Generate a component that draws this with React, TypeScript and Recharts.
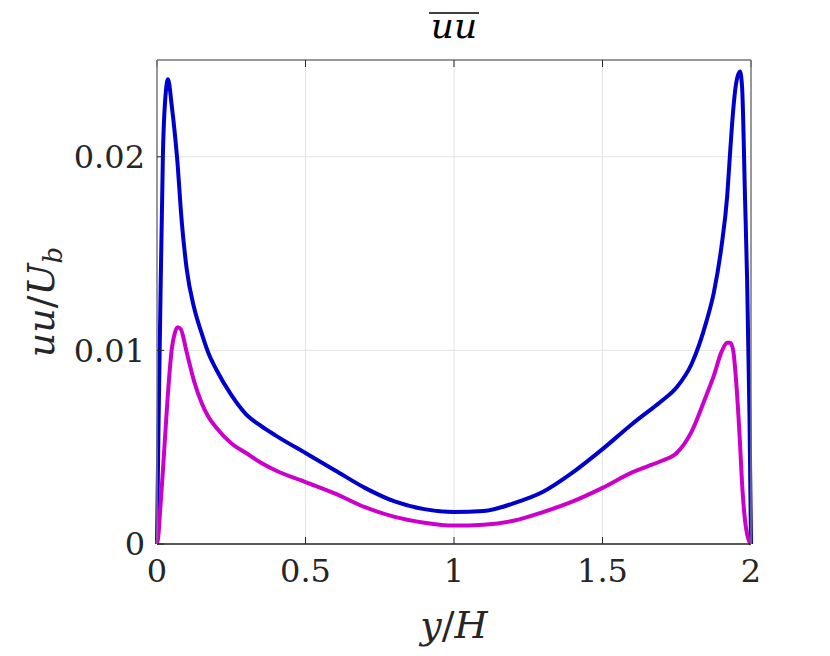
import { CartesianGrid, Label, Line, LineChart, XAxis, YAxis } from 'recharts';

// wall-normal positions y/H
const positions = [
  0, 0.005, 0.01, 0.02, 0.03, 0.037, 0.05, 0.06, 0.07, 0.08, 0.1, 0.125, 0.15, 0.172, 0.2, 0.25, 0.3,
  0.35, 0.4, 0.5, 0.6, 0.7, 0.8, 0.9, 1.0, 1.1, 1.2, 1.3, 1.4, 1.5, 1.6, 1.65, 1.7, 1.75, 1.8, 1.85,
  1.875, 1.9, 1.92, 1.93, 1.94, 1.95, 1.963, 1.97, 1.98, 1.987, 1.995, 2.0,
];

const blueValues = [
  0, 0.006, 0.011, 0.0202, 0.0234, 0.024, 0.0226, 0.0212, 0.0195, 0.0173, 0.0142, 0.0122, 0.0109,
  0.0099, 0.009, 0.0077, 0.0067, 0.0061, 0.0056, 0.0047, 0.0038, 0.0029, 0.0022, 0.0018, 0.00165,
  0.0017, 0.0021, 0.0027, 0.0037, 0.0049, 0.0062, 0.0068, 0.0074, 0.0081, 0.0093, 0.0115, 0.013,
  0.0153, 0.018, 0.0203, 0.0224, 0.0238, 0.0244, 0.0236, 0.0178, 0.0136, 0.0065, 0,
];

const magentaValues = [
  0, 0.0005, 0.0016, 0.0038, 0.0062, 0.0078, 0.0101, 0.0109, 0.0112, 0.0111, 0.0099, 0.0084, 0.0073,
  0.0066, 0.006, 0.0052, 0.0047, 0.0042, 0.0038, 0.0032, 0.0026, 0.0019, 0.0014, 0.0011, 0.00095,
  0.001, 0.0012, 0.00165, 0.0022, 0.0029, 0.0037, 0.004, 0.0043, 0.0047, 0.0058, 0.0077, 0.0087,
  0.0099, 0.0104, 0.0104, 0.01, 0.0084, 0.0052, 0.0031, 0.0012, 0.0005, 0.0001, 0,
];

const xTicks = [0, 0.5, 1, 1.5, 2];
const yTicks = [0, 0.01, 0.02];

const data = positions.map((y, i) => ({ y, blue: blueValues[i], magenta: magentaValues[i] }));

const serif = "'DejaVu Serif', serif";
const ink = '#262626';

const tickStyle = { fontSize: 32, fill: ink, fontFamily: serif };

function TitleLabel(props: any) {
  const vb = props.viewBox;
  const cx = vb.x + vb.width / 2;
  return (
    <g>
      <line x1={cx - 25} x2={cx + 25} y1={13} y2={13} stroke="#000" strokeWidth={1.6} />
      <text x={cx} y={38} textAnchor="middle" fontSize={36} fill="#000" fontFamily={serif} fontStyle="italic">
        uu
      </text>
    </g>
  );
}

function XLabel(props: any) {
  const vb = props.viewBox;
  return (
    <text x={vb.x + vb.width / 2} y={638} textAnchor="middle" fontSize={38} fill={ink} fontFamily={serif}>
      <tspan fontStyle="italic">y</tspan>
      <tspan>/</tspan>
      <tspan fontStyle="italic">H</tspan>
    </text>
  );
}

function YLabel(props: any) {
  const vb = props.viewBox;
  const cy = vb.y + vb.height / 2;
  return (
    <text
      x={54}
      y={cy}
      transform={`rotate(-90 54 ${cy})`}
      textAnchor="middle"
      fontSize={38}
      fill={ink}
      fontFamily={serif}
    >
      <tspan fontStyle="italic">uu</tspan>
      <tspan>/</tspan>
      <tspan fontStyle="italic">U</tspan>
      <tspan fontStyle="italic" fontSize={26} dy={8}>
        b
      </tspan>
    </text>
  );
}

export default function App() {
  return (
    <div style={{ margin: -8, width: 830, height: 656, background: '#fff' }}>
      <LineChart width={830} height={656} data={data} margin={{ top: 59, right: 78, bottom: 0, left: 0 }}>
        <CartesianGrid stroke="#e3e3e3" strokeWidth={1} />
        <XAxis
          dataKey="y"
          type="number"
          domain={[0, 2]}
          ticks={xTicks}
          height={112}
          tick={tickStyle}
          tickSize={-7}
          tickMargin={22}
          tickFormatter={(v: number) => String(v)}
          stroke={ink}
          axisLine={{ stroke: ink, strokeWidth: 1.5 }}
          tickLine={{ stroke: ink }}
        >
          <Label content={XLabel} />
        </XAxis>
        <XAxis
          xAxisId="top"
          orientation="top"
          dataKey="y"
          type="number"
          domain={[0, 2]}
          ticks={xTicks}
          height={1}
          tickSize={-7}
          tickFormatter={() => ''}
          axisLine={{ stroke: '#7a7a7a', strokeWidth: 1.5 }}
          tickLine={{ stroke: ink }}
        >
          <Label content={TitleLabel} />
        </XAxis>
        <YAxis
          type="number"
          domain={[0, 0.025]}
          ticks={yTicks}
          width={157}
          tick={tickStyle}
          tickSize={-7}
          tickMargin={19}
          tickFormatter={(v: number) => String(v)}
          axisLine={{ stroke: '#7a7a7a', strokeWidth: 1.5 }}
          tickLine={{ stroke: ink }}
        >
          <Label content={YLabel} />
        </YAxis>
        <YAxis
          yAxisId="right"
          orientation="right"
          type="number"
          domain={[0, 0.025]}
          ticks={yTicks}
          width={1}
          tickSize={-7}
          tickFormatter={() => ''}
          axisLine={{ stroke: '#7a7a7a', strokeWidth: 1.5 }}
          tickLine={{ stroke: ink }}
        />
        <Line
          type="monotone"
          dataKey="blue"
          stroke="#0000cc"
          strokeWidth={4}
          dot={false}
          isAnimationActive={false}
        />
        <Line
          type="monotone"
          dataKey="magenta"
          stroke="#cc00cc"
          strokeWidth={4}
          dot={false}
          isAnimationActive={false}
        />
      </LineChart>
    </div>
  );
}
